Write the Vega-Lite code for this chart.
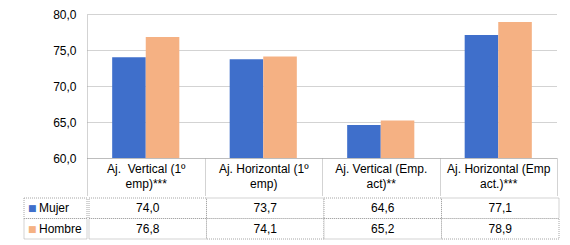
{
  "$schema": "https://vega.github.io/schema/vega-lite/v6.json",
  "padding": {"left": 23, "top": 8, "right": 0, "bottom": 0},
  "background": "#ffffff",
  "config": {
    "locale": {"number": {"decimal": ",", "thousands": ".", "grouping": [3], "currency": ["", " €"]}},
    "view": {"stroke": null},
    "font": "Liberation Sans",
    "axis": {"labelFont": "Liberation Sans", "labelFontSize": 12, "labelColor": "#000000", "title": null},
    "text": {"font": "Liberation Sans", "fontSize": 12, "color": "#000000"}
  },
  "data": {
    "values": [
      {"category": "Aj.  Vertical (1º emp)***", "sex": "Mujer", "value": 74.0},
      {"category": "Aj.  Vertical (1º emp)***", "sex": "Hombre", "value": 76.8},
      {"category": "Aj. Horizontal (1º emp)", "sex": "Mujer", "value": 73.7},
      {"category": "Aj. Horizontal (1º emp)", "sex": "Hombre", "value": 74.1},
      {"category": "Aj. Vertical (Emp. act)**", "sex": "Mujer", "value": 64.6},
      {"category": "Aj. Vertical (Emp. act)**", "sex": "Hombre", "value": 65.2},
      {"category": "Aj. Horizontal (Emp act.)***", "sex": "Mujer", "value": 77.1},
      {"category": "Aj. Horizontal (Emp act.)***", "sex": "Hombre", "value": 78.9}
    ]
  },
  "spacing": 0,
  "vconcat": [
    {
      "spacing": 0,
      "hconcat": [
        {
          "width": 25,
          "height": 144,
          "data": {"values": [{"blank": ""}]},
          "mark": {"type": "text", "opacity": 0},
          "encoding": {"text": {"field": "blank"}}
        },
        {
          "width": 470,
          "height": 144,
          "mark": {"type": "bar", "clip": true},
          "encoding": {
            "x": {
              "field": "category", "type": "nominal", "sort": null,
              "scale": {"paddingInner": 0, "paddingOuter": 0},
              "axis": {
                "orient": "bottom", "labelAngle": 0,
                "domain": true, "domainColor": "#a6a6a6", "domainDash": [1, 1],
                "ticks": true, "tickBand": "extent", "tickSize": 38, "tickColor": "#a6a6a6", "tickDash": [1, 1],
                "labelPadding": -33, "labelBaseline": "top", "labelLineHeight": 15,
                "labelExpr": "[replace(slice(datum.label, 0, lastindexof(datum.label, ' ')), '  ', '\u00a0 '), slice(datum.label, lastindexof(datum.label, ' ') + 1)]",
                "grid": false
              }
            },
            "xOffset": {
              "field": "sex", "type": "nominal", "sort": ["Mujer", "Hombre"],
              "scale": {"paddingInner": 0, "paddingOuter": 0.75}
            },
            "y": {
              "field": "value", "type": "quantitative",
              "scale": {"domain": [60, 80], "zero": false, "nice": false},
              "axis": {
                "values": [60, 65, 70, 75, 80], "format": ".1f",
                "grid": true, "gridColor": "#a6a6a6", "gridDash": [1, 1],
                "domain": true, "domainColor": "#a6a6a6", "domainDash": [1, 1],
                "ticks": false, "labelPadding": 11, "minExtent": 38, "maxExtent": 38
              }
            },
            "color": {
              "field": "sex", "type": "nominal",
              "scale": {"domain": ["Mujer", "Hombre"], "range": ["#3f6fcb", "#f5b183"]},
              "legend": null
            }
          }
        }
      ]
    },
    {
      "spacing": 0,
      "hconcat": [
        {
          "width": 63,
          "height": 41,
          "data": {"values": [{"sex": "Mujer"}, {"sex": "Hombre"}]},
          "layer": [
            {
              "mark": {"type": "rect", "fill": "#ffffff", "stroke": "#a6a6a6", "strokeDash": [1, 1], "strokeWidth": 1},
              "encoding": {
                "y": {"field": "sex", "type": "nominal", "sort": ["Mujer", "Hombre"], "scale": {"paddingInner": 0, "paddingOuter": 0}, "axis": null}
              }
            },
            {
              "mark": {"type": "text", "text": "■", "font": "DejaVu Sans", "fontSize": 9, "align": "left", "dx": -27.5, "baseline": "middle"},
              "encoding": {
                "y": {"field": "sex", "type": "nominal", "sort": ["Mujer", "Hombre"], "axis": null},
                "color": {"field": "sex", "type": "nominal", "scale": {"domain": ["Mujer", "Hombre"], "range": ["#3f6fcb", "#f5b183"]}, "legend": null}
              }
            },
            {
              "mark": {"type": "text", "align": "left", "dx": -16.5, "baseline": "middle", "color": "#000000"},
              "encoding": {
                "y": {"field": "sex", "type": "nominal", "sort": ["Mujer", "Hombre"], "axis": null},
                "text": {"field": "sex"}
              }
            }
          ]
        },
        {
          "width": 470,
          "height": 41,
          "layer": [
            {
              "mark": {"type": "rect", "fill": "#ffffff", "stroke": "#a6a6a6", "strokeDash": [1, 1], "strokeWidth": 1},
              "encoding": {
                "x": {"field": "category", "type": "nominal", "sort": null, "scale": {"paddingInner": 0, "paddingOuter": 0}, "axis": null},
                "y": {"field": "sex", "type": "nominal", "sort": ["Mujer", "Hombre"], "scale": {"paddingInner": 0, "paddingOuter": 0}, "axis": null}
              }
            },
            {
              "mark": {"type": "text", "baseline": "middle", "color": "#000000"},
              "encoding": {
                "x": {"field": "category", "type": "nominal", "sort": null, "axis": null},
                "y": {"field": "sex", "type": "nominal", "sort": ["Mujer", "Hombre"], "axis": null},
                "text": {"field": "value", "type": "quantitative", "format": ".1f"}
              }
            }
          ]
        }
      ]
    }
  ]
}
